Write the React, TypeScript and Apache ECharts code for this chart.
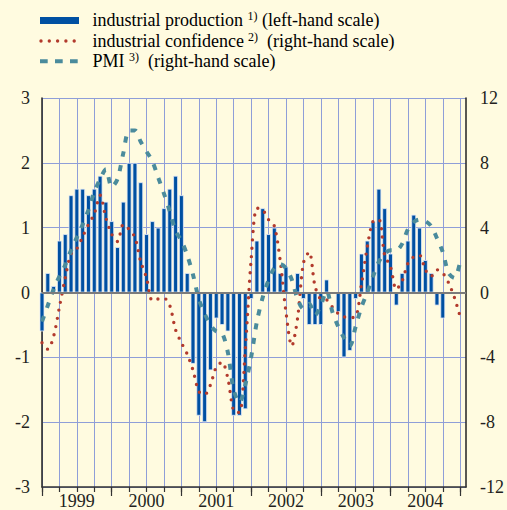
import React, { useEffect, useRef } from 'react';
import * as echarts from 'echarts';

// Monthly categories Jan 1999 .. Feb 2005 (axis runs to Feb 2005)
const months: string[] = [];
for (let y = 1999; y <= 2005; y++) {
  for (let m = 1; m <= 12; m++) {
    if (y === 2005 && m > 2) break;
    months.push(`${y}-${m < 10 ? '0' + m : m}`);
  }
}

// industrial production, % change (left-hand scale), Jan 1999 - Oct 2004
const production = [
  -0.6, 0.3, 0.1, 0.8, 0.9, 1.5, 1.6, 1.6, 1.5, 1.6, 1.8, 1.4,
  1.1, 0.7, 1.4, 2.0, 2.0, 1.7, 0.9, 1.1, 1.0, 1.3, 1.6, 1.8,
  1.5, 0.3, -1.1, -1.9, -2.0, -1.2, -0.4, -0.5, -0.6, -1.9, -1.9, -1.8,
  -0.1, 0.8, 1.3, 0.9, 1.0, 0.3, 0.4, 0, 0.3, -0.1, -0.5, -0.5,
  -0.5, 0.2, 0, -0.3, -1.0, -0.9, -0.1, 0.6, 0.8, 1.1, 1.6, 1.3,
  0.6, -0.2, 0.3, 0.8, 1.2, 1.0, 0.5, 0.3, -0.2, -0.4,
];

// industrial confidence (right-hand scale), Jan 1999 - Jan 2005
const confidence = [
  -3.1, -3.5, -2.7, -0.9, 0.9, 2.4, 2.7, 3.45, 4.2, 4.85, 6.0, 4.6,
  3.6, 3.15, 4.2, 3.9, 3.4, 1.9, 0.9, -0.5, -0.4, -0.35, -0.8, -2.3,
  -3.1, -3.8, -4.8, -6.1, -6.3, -5.7, -4.6, -4.3, -5.3, -7.3, -7.4, -3.5,
  2.0, 5.2, 5.1, 4.5, 4.1, 2.0, -1.2, -3.3, -1.6, 1.8, 2.5, 0.4,
  -0.4, -0.45, -0.9, -1.3, -1.5, -1.55, -1.5, 0.5, 2.8, 4.4, 4.5, 2.3,
  1.6, 0.2, 0.7, 1.8, 2.2, 2.3, 1.4, 1.0, 1.4, 1.2, 0.6, -0.3, -1.5,
];

// PMI (right-hand scale), Jan 1999 - Jan 2005
const pmi = [
  -1.8, -0.8, 0.2, 1.0, 1.7, 2.6, 3.4, 4.2, 5.1, 6.2, 7.0, 7.6,
  6.5, 7.0, 8.6, 10.0, 10.0, 9.3, 8.7, 8.1, 7.1, 6.1, 5.0, 3.8,
  3.2, 2.3, 1.1, -0.4, -1.3, -2.0, -2.4, -2.5, -3.7, -6.0, -6.8, -5.7,
  -4.0, -1.8, -0.3, 0.75, 1.5, 1.75, 1.5, 0.8, -0.4, -1.0, -0.7, -1.4,
  -0.8, 0.1, -1.2, -2.1, -2.8, -3.3, -2.1, -0.9, 0.0, 1.0, 1.9, 2.4,
  2.6, 2.6, 3.0, 3.9, 4.35, 4.5, 4.4, 4.1, 3.35, 2.5, 1.2, 0.9, 1.9,
];

const leftTicks = { min: -3, max: 3, interval: 1 };
const rightTicks = { min: -12, max: 12, interval: 4 };

const BG = '#fffbe0';
const BAR = '#0050a2';
const RED = '#b23a2c';
const TEAL = '#4a8b9c';
const GRID = '#8f9ed8';
const TXT = '#231f20';
const FONT = 'Times New Roman, Liberation Serif, serif';

export default function App() {
  const ref = useRef<HTMLDivElement>(null);
  useEffect(() => {
    if (!ref.current) return;
    const chart = echarts.init(ref.current, undefined, { renderer: 'svg' });
    const labelStyle = { fontFamily: FONT, fontSize: 18, color: TXT };
    const richMain = { fontFamily: FONT, fontSize: 18, color: TXT, lineHeight: 20 };
    const richSup = { fontFamily: FONT, fontSize: 12, color: TXT, lineHeight: 12, verticalAlign: 'top' };
    chart.setOption({
      animation: false,
      backgroundColor: BG,
      textStyle: { fontFamily: FONT },
      grid: { left: 42, right: 41, top: 98, bottom: 23, containLabel: false, outerBoundsMode: 'none' },
      xAxis: [
        {
          type: 'category',
          data: months,
          boundaryGap: false,
          axisLine: { show: true, onZero: false, lineStyle: { color: '#333', width: 1.5 } },
          axisTick: { show: true, interval: (i: number) => i % 3 === 0, length: 5, lineStyle: { color: '#333', width: 1.2 } },
          axisLabel: {
            ...labelStyle,
            lineHeight: 14,
            interval: (i: number) => i % 12 === 6,
            formatter: (v: string) => v.slice(0, 4),
            margin: 7,
          },
          splitLine: { show: true, interval: (i: number) => i % 3 === 0, lineStyle: { color: GRID, width: 1 } },
        },
        {
          type: 'category',
          data: months,
          boundaryGap: false,
          position: 'bottom',
          axisLine: { show: false, onZero: false },
          axisTick: { show: true, interval: (i: number) => i % 12 === 0, length: 9, lineStyle: { color: '#333', width: 1.2 } },
          axisLabel: { show: false },
          splitLine: { show: false },
        },
      ],
      yAxis: [
        {
          type: 'value',
          position: 'left',
          ...leftTicks,
          axisLine: { show: true, lineStyle: { color: '#222', width: 1.5 } },
          axisTick: { show: false },
          axisLabel: { ...labelStyle, margin: 12 },
          splitLine: { show: true, lineStyle: { color: GRID, width: 1 } },
        },
        {
          type: 'value',
          position: 'right',
          ...rightTicks,
          axisLine: { show: true, lineStyle: { color: '#222', width: 1.5 } },
          axisTick: { show: false },
          axisLabel: { ...labelStyle, margin: 14 },
          splitLine: { show: false },
        },
      ],
      series: [
        {
          name: 'industrial production',
          type: 'bar',
          xAxisIndex: 0,
          yAxisIndex: 0,
          data: production,
          barWidth: 4.8,
          itemStyle: { color: BAR, borderColor: '#e4ebf8', borderWidth: 0.8 },
          markLine: {
            silent: true,
            symbol: ['none', 'none'],
            label: { show: false },
            lineStyle: { color: '#7b7b7b', width: 2, type: 'solid' },
            data: [{ yAxis: 0 }],
          },
        },
        {
          name: 'industrial confidence',
          type: 'line',
          xAxisIndex: 0,
          yAxisIndex: 1,
          data: confidence,
          showSymbol: false,
          smooth: 0.3,
          lineStyle: { color: RED, width: 3.4, type: [0, 8.3], cap: 'round' },
        },
        {
          name: 'PMI',
          type: 'line',
          xAxisIndex: 0,
          yAxisIndex: 1,
          data: pmi,
          showSymbol: false,
          smooth: 0.3,
          lineStyle: { color: TEAL, width: 4, type: [6, 8.5] },
        },
      ],
      graphic: [
        { type: 'rect', shape: { x: 40, y: 17, width: 39, height: 7 }, style: { fill: BAR } },
        { type: 'line', shape: { x1: 41, y1: 41, x2: 80, y2: 41 }, style: { stroke: RED, lineWidth: 3.4, lineDash: [0, 8.3], lineCap: 'round' } },
        { type: 'line', shape: { x1: 40, y1: 61.3, x2: 80, y2: 61.3 }, style: { stroke: TEAL, lineWidth: 4, lineDash: [7.7, 7.3] } },
        {
          type: 'text', x: 92.5, y: 20,
          style: {
            text: '{a|industrial production }{s|1)}{a| (left-hand scale)}',
            verticalAlign: 'middle',
            rich: { a: richMain, s: richSup },
          },
        },
        {
          type: 'text', x: 92.5, y: 40.5,
          style: {
            text: '{a|industrial confidence}{s|2)}{a|  (right-hand scale)}',
            verticalAlign: 'middle',
            rich: { a: richMain, s: { ...richSup, padding: [0, 0, 0, 4] } },
          },
        },
        {
          type: 'text', x: 92.5, y: 61,
          style: {
            text: '{a|PMI }{s|3)}{a|  (right-hand scale)}',
            verticalAlign: 'middle',
            rich: { a: richMain, s: richSup },
          },
        },
      ],
    });
    return () => chart.dispose();
  }, []);
  return <div ref={ref} style={{ position: 'fixed', left: 0, top: 0, width: 507, height: 510 }} />;
}
